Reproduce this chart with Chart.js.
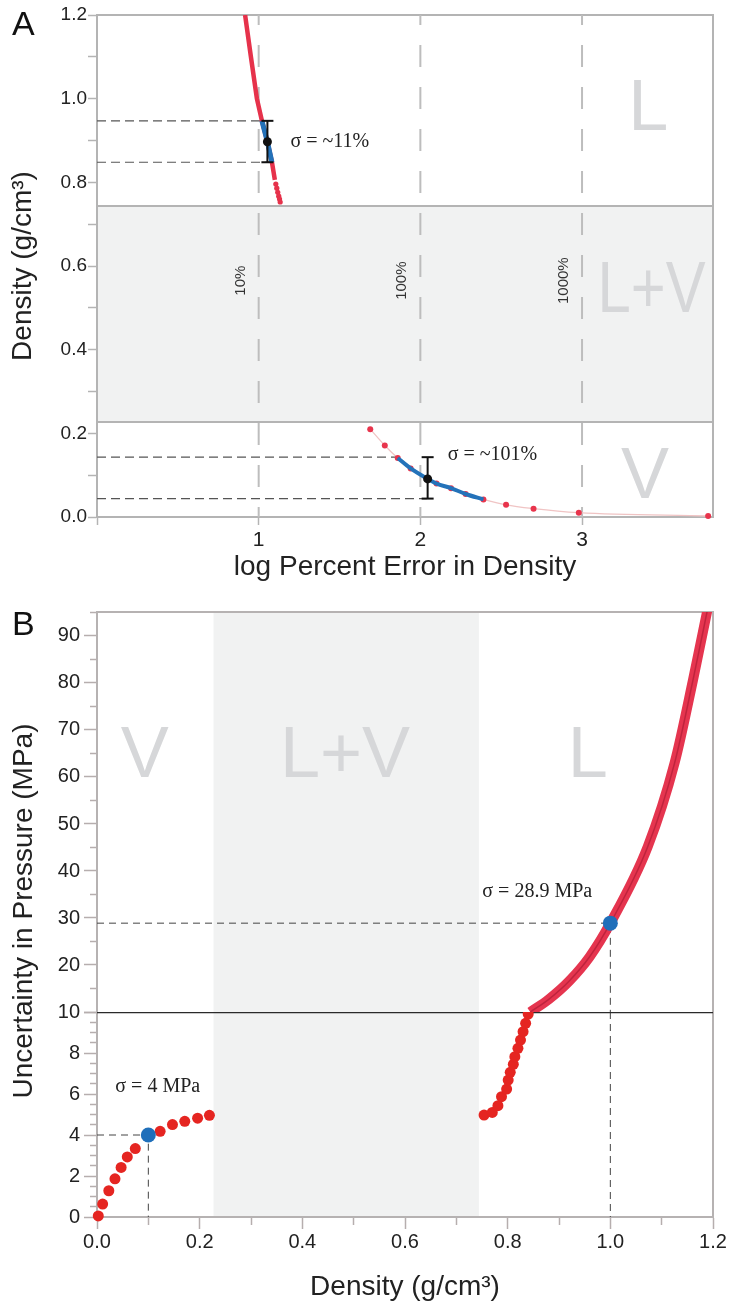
<!DOCTYPE html>
<html>
<head>
<meta charset="utf-8">
<title>Density uncertainty</title>
<script src="https://cdn.jsdelivr.net/npm/chart.js@4.4.1/dist/chart.umd.min.js"></script>
<style>
  html, body { margin: 0; padding: 0; background: #fff; }
  .panel { position: absolute; left: 0; width: 730px; }
</style>
</head>
<body>
<div class="panel" style="top:0;height:584px"><canvas id="chartA" width="730" height="584"></canvas></div>
<div class="panel" style="top:584px;height:724px"><canvas id="chartB" width="730" height="724"></canvas></div>
<script>
// phase boundaries in density (g/cm3), used by both panels
var phaseBand = [0.227, 0.744];

// ---- panel A : log percent error vs density ----
var aLiqErr = [0.916, 0.952, 0.989, 1.02, 1.054, 1.082, 1.1];
var aLiqDens = [1.2, 1.1, 1.0, 0.947, 0.897, 0.848, 0.806];
var aLiqTailErr = [1.106, 1.112, 1.118, 1.124, 1.129, 1.133];
var aLiqTailDens = [0.796, 0.786, 0.776, 0.767, 0.760, 0.753];
var aLiqBlueErr = [1.02, 1.054, 1.082];
var aLiqBlueDens = [0.947, 0.897, 0.848];

var aVapErr = [1.69, 1.78, 1.86, 1.94, 2.10, 2.19, 2.28, 2.39, 2.53, 2.70, 2.98, 3.78];
var aVapDens = [0.21, 0.171, 0.141, 0.116, 0.080, 0.069, 0.055, 0.042, 0.029, 0.020, 0.0103, 0.0024];
var aVapBlueErr = [1.86, 1.94, 2.045, 2.10, 2.19, 2.28, 2.39];
var aVapBlueDens = [0.141, 0.116, 0.091, 0.080, 0.069, 0.055, 0.042];

var aSigErr = [1.054, 2.045];
var aSigMean = [0.897, 0.091];
var aSigLo = [0.848, 0.044];
var aSigHi = [0.947, 0.143];
var aSigLabel = ['\u03c3 = ~11%', '\u03c3 = ~101%'];
var aGuideHiEnd = [1.02, 1.86];
var aGuideLoEnd = [1.07, 2.04];

var aRefErr = [1, 2, 3];
var aRefLabel = ['10%', '100%', '1000%'];
var aRegionText = ['L', 'L+V', 'V'];
var aRegionErr = [3.41, 3.43, 3.39];
var aRegionDens = [0.925, 0.49, 0.045];

// ---- panel B : uncertainty in pressure vs density ----
var bVapDens = [0.0025, 0.011, 0.023, 0.035, 0.047, 0.059, 0.0746, 0.123, 0.147, 0.171, 0.196, 0.219];
var bVapUnc = [0.05, 0.63, 1.28, 1.86, 2.42, 2.93, 3.34, 4.18, 4.51, 4.67, 4.82, 4.96];
var bLiqDotDens = [0.754, 0.770, 0.781, 0.788, 0.798, 0.801, 0.805, 0.811, 0.814, 0.820, 0.825, 0.830, 0.835, 0.840];
var bLiqDotUnc = [4.97, 5.1, 5.43, 5.87, 6.24, 6.68, 7.06, 7.45, 7.82, 8.23, 8.63, 9.04, 9.45, 9.9];
var bLiqCurveDens = [0.844, 0.88, 0.92, 0.96, 1.0, 1.073, 1.125, 1.161, 1.19];
var bLiqCurveUnc = [10, 12.7, 16.6, 21.8, 28.9, 45.2, 62.9, 80.6, 96];
var bSigDens = [0.1, 1.0];
var bSigUnc = [4, 28.9];
var bSigLabel = ['\u03c3 = 4 MPa', '\u03c3 = 28.9 MPa'];
var bBreak = 10;
var bRegionText = ['V', 'L+V', 'L'];
var bRegionDens = [0.093, 0.483, 0.956];
var bRegionUnc = [60, 60, 60];

var SANS = '"Liberation Sans", Arial, Helvetica, sans-serif';
var SERIF = '"Liberation Serif", "Times New Roman", serif';

function pts(xs, ys) {
  return xs.map(function (x, i) { return { x: x, y: ys[i] }; });
}
function px(scale, v) { return scale.getPixelForValue(v); }

// ---------------- panel A ----------------
var datasetsA = [
  { data: pts(aSigErr, aSigMean), pointRadius: 4.5, pointBackgroundColor: '#111', pointBorderWidth: 0, order: 0 }
];
aSigErr.forEach(function (x, i) {
  datasetsA.push({ data: [{ x: x, y: aSigLo[i] }, { x: x, y: aSigHi[i] }], showLine: true, borderColor: '#111', borderWidth: 2,
    pointStyle: 'line', pointRadius: 6, pointBorderColor: '#111', pointBorderWidth: 2, order: 1 });
  datasetsA.push({ data: [{ x: 0, y: aSigHi[i] }, { x: aGuideHiEnd[i], y: aSigHi[i] }], showLine: true, borderColor: '#555',
    borderWidth: 1.2, borderDash: [9, 5], pointRadius: 0, order: 5 });
  datasetsA.push({ data: [{ x: 0, y: aSigLo[i] }, { x: aGuideLoEnd[i], y: aSigLo[i] }], showLine: true, borderColor: '#555',
    borderWidth: 1.2, borderDash: [9, 5], pointRadius: 0, order: 5 });
});
datasetsA.push(
  { data: pts(aLiqBlueErr, aLiqBlueDens), showLine: true, borderColor: '#2372b9', borderWidth: 5, pointRadius: 0, order: 2 },
  { data: pts(aVapBlueErr, aVapBlueDens), showLine: true, borderColor: '#2372b9', borderWidth: 4, pointRadius: 0,
    cubicInterpolationMode: 'monotone', order: 2 },
  { data: pts(aLiqErr, aLiqDens), showLine: true, borderColor: '#e6324b', borderWidth: 4.5, pointRadius: 0, order: 3 },
  { data: pts(aLiqTailErr, aLiqTailDens), pointRadius: 2.6, pointBackgroundColor: '#e6324b', pointBorderWidth: 0, order: 3 },
  { data: pts(aVapErr, aVapDens), pointRadius: 3, pointBackgroundColor: '#e8344c', pointBorderWidth: 0, order: 3, clip: false },
  { data: pts(aVapErr, aVapDens), showLine: true, borderColor: '#f0c4c4', borderWidth: 1.3, pointRadius: 0,
    cubicInterpolationMode: 'monotone', order: 4 }
);
aRefErr.forEach(function (r) {
  datasetsA.push({ data: [{ x: r, y: 1.2 }, { x: r, y: 0 }], showLine: true, borderColor: '#bdbdbd', borderWidth: 2,
    borderDash: [22, 20], borderDashOffset: 12, pointRadius: 0, order: 6 });
});

var panelA = {
  id: 'panelA',
  beforeDraw: function (chart) {
    var ctx = chart.ctx, area = chart.chartArea, xs = chart.scales.x, ys = chart.scales.y;
    var yTop = px(ys, phaseBand[1]), yBot = px(ys, phaseBand[0]);
    ctx.save();
    ctx.fillStyle = '#f1f2f2';
    ctx.fillRect(area.left, yTop, area.right - area.left, yBot - yTop);
    ctx.fillStyle = '#d6d7d9';
    ctx.font = '72px ' + SANS;
    ctx.textAlign = 'center';
    ctx.textBaseline = 'alphabetic';
    aRegionText.forEach(function (t, i) {
      // the region letters sit in the narrow strip right of the 1000% line
      ctx.fillText(t, px(xs, aRegionErr[i]), px(ys, aRegionDens[i]), 108);
    });
    ctx.restore();
  },
  beforeDatasetsDraw: function (chart) {
    var ctx = chart.ctx, area = chart.chartArea, ys = chart.scales.y;
    ctx.save();
    ctx.strokeStyle = '#b4b4b4';
    ctx.lineWidth = 2;
    ctx.strokeRect(area.left, area.top, area.right - area.left, area.bottom - area.top);
    phaseBand.forEach(function (d) {
      var y = Math.round(px(ys, d));
      ctx.beginPath();
      ctx.moveTo(area.left, y);
      ctx.lineTo(area.right, y);
      ctx.stroke();
    });
    ctx.restore();
  },
  afterDatasetsDraw: function (chart) {
    var ctx = chart.ctx, xs = chart.scales.x, ys = chart.scales.y;
    ctx.save();
    // percent labels along the reference lines
    ctx.fillStyle = '#333';
    ctx.font = '15px ' + SANS;
    ctx.textAlign = 'center';
    ctx.textBaseline = 'alphabetic';
    aRefErr.forEach(function (r, i) {
      ctx.save();
      ctx.translate(px(xs, r) - 14, px(ys, 0.565));
      ctx.rotate(-Math.PI / 2);
      ctx.fillText(aRefLabel[i], 0, 0);
      ctx.restore();
    });
    // sigma notes
    var dx = [23, 20], dy = [0, -24];
    ctx.fillStyle = '#222';
    ctx.font = '20px ' + SERIF;
    ctx.textAlign = 'left';
    ctx.textBaseline = 'middle';
    aSigLabel.forEach(function (t, i) {
      ctx.fillText(t, px(xs, aSigErr[i]) + dx[i], px(ys, aSigMean[i]) + dy[i]);
    });
    ctx.restore();
  },
  afterDraw: function (chart) {
    var ctx = chart.ctx;
    ctx.save();
    ctx.fillStyle = '#111';
    ctx.font = '34px ' + SANS;
    ctx.textBaseline = 'alphabetic';
    ctx.fillText('A', 12, 35);
    ctx.restore();
  }
};

new Chart(document.getElementById('chartA'), {
  type: 'scatter',
  data: { datasets: datasetsA },
  options: {
    responsive: false, animation: false, devicePixelRatio: 1, events: [],
    layout: { padding: { top: 15, right: 17, left: 0, bottom: 0 } },
    plugins: { legend: { display: false }, tooltip: { enabled: false } },
    scales: {
      x: {
        type: 'linear', min: 0, max: 3.81,
        border: { color: '#b4b4b4', width: 2 },
        grid: { drawOnChartArea: false, tickLength: 8, tickColor: '#b4b4b4', tickWidth: 1.5 },
        ticks: { stepSize: 1, includeBounds: false, autoSkip: false, maxRotation: 0, padding: 3, color: '#222',
          font: { family: SANS, size: 21 },
          callback: function (v) { return v >= 1 ? String(v) : ''; } },
        title: { display: true, text: 'log Percent Error in Density', color: '#222',
          font: { family: SANS, size: 28 }, padding: { top: 0, bottom: 0 } },
        afterFit: function (s) { s.height = 67; }
      },
      y: {
        type: 'linear', min: 0, max: 1.2,
        border: { color: '#b4b4b4', width: 2 },
        grid: { drawOnChartArea: false, tickLength: 9, tickColor: '#b4b4b4', tickWidth: 1.5 },
        ticks: { stepSize: 0.1, autoSkip: false, padding: 1, color: '#222', font: { family: SANS, size: 19 },
          callback: function (v) { var k = Math.round(v * 10); return k % 2 === 0 ? (k / 10).toFixed(1) : ''; } },
        title: { display: true, text: 'Density (g/cm\u00b3)', color: '#222',
          font: { family: SANS, size: 28 }, padding: { top: 6, bottom: 0 } },
        afterFit: function (s) { s.width = 97; }
      }
    }
  },
  plugins: [panelA]
});

// ---------------- panel B ----------------
var datasetsB = [
  { data: [{ x: bSigDens[0], y: bSigUnc[0] }], yAxisID: 'yLow', pointRadius: 7.5, pointBackgroundColor: '#1f6fba', pointBorderWidth: 0, order: 0 },
  { data: [{ x: bSigDens[1], y: bSigUnc[1] }], yAxisID: 'yHigh', pointRadius: 7.5, pointBackgroundColor: '#1f6fba', pointBorderWidth: 0, order: 0 },
  { data: pts(bVapDens, bVapUnc), yAxisID: 'yLow', pointRadius: 5.5, pointBackgroundColor: '#e52521', pointBorderWidth: 0, clip: false, order: 1 },
  { data: pts(bLiqDotDens, bLiqDotUnc), yAxisID: 'yLow', pointRadius: 5.5, pointBackgroundColor: '#e52521', pointBorderWidth: 0, order: 1 },
  { data: pts(bLiqCurveDens, bLiqCurveUnc), yAxisID: 'yHigh', showLine: true, borderColor: 'rgba(160,20,45,0.55)', borderWidth: 1.5,
    pointRadius: 0, cubicInterpolationMode: 'monotone', order: 2 },
  { data: pts(bLiqCurveDens, bLiqCurveUnc), yAxisID: 'yHigh', showLine: true, borderColor: '#e5354f', borderWidth: 10,
    pointRadius: 0, cubicInterpolationMode: 'monotone', order: 3 },
  { data: [{ x: 0, y: bBreak }, { x: 1.2, y: bBreak }], yAxisID: 'yLow', showLine: true, borderColor: '#2a2a2a', borderWidth: 2.5,
    pointRadius: 0, order: 4 },
  // dashed guides to the sigma points
  { data: [{ x: 0, y: bSigUnc[0] }, { x: bSigDens[0], y: bSigUnc[0] }, { x: bSigDens[0], y: 0 }], yAxisID: 'yLow', showLine: true,
    borderColor: '#444', borderWidth: 1, borderDash: [7, 5], pointRadius: 0, order: 5 },
  { data: [{ x: 0, y: bSigUnc[1] }, { x: bSigDens[1], y: bSigUnc[1] }, { x: bSigDens[1], y: bBreak }], yAxisID: 'yHigh', showLine: true,
    borderColor: '#444', borderWidth: 1, borderDash: [7, 5], pointRadius: 0, order: 5 },
  { data: [{ x: bSigDens[1], y: bBreak }, { x: bSigDens[1], y: 0 }], yAxisID: 'yLow', showLine: true,
    borderColor: '#444', borderWidth: 1, borderDash: [7, 5], pointRadius: 0, order: 5 }
];

var panelB = {
  id: 'panelB',
  beforeDraw: function (chart) {
    var ctx = chart.ctx, area = chart.chartArea, xs = chart.scales.x, yh = chart.scales.yHigh;
    var xl = px(xs, phaseBand[0]), xr = px(xs, phaseBand[1]);
    ctx.save();
    ctx.fillStyle = '#f1f2f2';
    ctx.fillRect(xl, area.top, xr - xl, area.bottom - area.top);
    ctx.fillStyle = '#d6d7d9';
    ctx.font = '72px ' + SANS;
    ctx.textAlign = 'center';
    ctx.textBaseline = 'alphabetic';
    bRegionText.forEach(function (t, i) {
      ctx.fillText(t, px(xs, bRegionDens[i]), px(yh, bRegionUnc[i]));
    });
    ctx.restore();
  },
  beforeDatasetsDraw: function (chart) {
    var ctx = chart.ctx, area = chart.chartArea;
    ctx.save();
    ctx.strokeStyle = '#b6b2b2';
    ctx.lineWidth = 2;
    ctx.strokeRect(area.left, area.top, area.right - area.left, area.bottom - area.top);
    ctx.restore();
  },
  afterDatasetsDraw: function (chart) {
    var ctx = chart.ctx, xs = chart.scales.x;
    var axes = [chart.scales.yLow, chart.scales.yHigh];
    var dx = [-33, -128], dy = [-48, -31];
    ctx.save();
    ctx.fillStyle = '#222';
    ctx.font = '20px ' + SERIF;
    ctx.textAlign = 'left';
    ctx.textBaseline = 'middle';
    bSigLabel.forEach(function (t, i) {
      ctx.fillText(t, px(xs, bSigDens[i]) + dx[i], px(axes[i], bSigUnc[i]) + dy[i]);
    });
    ctx.restore();
  },
  afterDraw: function (chart) {
    var ctx = chart.ctx;
    ctx.save();
    ctx.fillStyle = '#111';
    ctx.font = '34px ' + SANS;
    ctx.textBaseline = 'alphabetic';
    ctx.fillText('B', 12, 51);
    ctx.fillStyle = '#222';
    ctx.font = '28px ' + SANS;
    ctx.textAlign = 'center';
    ctx.textBaseline = 'middle';
    ctx.translate(24, 327);
    ctx.rotate(-Math.PI / 2);
    ctx.fillText('Uncertainty in Pressure (MPa)', 0, 0);
    ctx.restore();
  }
};

function leftMinorDash(isMajor) {
  return function (c) { return c.tick && isMajor(c.tick.value) ? [] : [0, 6, 7, 100]; };
}

new Chart(document.getElementById('chartB'), {
  type: 'scatter',
  data: { datasets: datasetsB },
  options: {
    responsive: false, animation: false, devicePixelRatio: 1, events: [],
    layout: { padding: { top: 28, right: 17, left: 0, bottom: 0 } },
    plugins: { legend: { display: false }, tooltip: { enabled: false } },
    scales: {
      x: {
        type: 'linear', min: 0, max: 1.2,
        border: { color: '#b6b2b2', width: 2 },
        grid: { drawOnChartArea: false, tickLength: 12, tickColor: '#b6aeae', tickWidth: 1.5,
          tickBorderDash: function (c) { return c.tick && Math.round(c.tick.value * 10) % 2 === 0 ? [] : [7, 100]; } },
        ticks: { stepSize: 0.1, autoSkip: false, maxRotation: 0, padding: 1, color: '#222', font: { family: SANS, size: 20 },
          callback: function (v) { var k = Math.round(v * 10); return k % 2 === 0 ? (k / 10).toFixed(1) : ''; } },
        title: { display: true, text: 'Density (g/cm\u00b3)', color: '#222',
          font: { family: SANS, size: 28 }, padding: { top: 0, bottom: 4 } },
        afterFit: function (s) { s.height = 91; }
      },
      yLow: {
        type: 'linear', position: 'left', stack: 'unc', stackWeight: 205, min: 0, max: bBreak,
        border: { color: '#b6b2b2', width: 2 },
        grid: { drawOnChartArea: false, tickLength: 13, tickColor: '#b6aeae', tickWidth: 1.5,
          tickBorderDash: leftMinorDash(function (v) { return Math.abs(v % 2) < 1e-6; }) },
        ticks: { stepSize: 0.5, autoSkip: false, padding: 4, color: '#222', font: { family: SANS, size: 20 },
          callback: function (v) { return Math.abs(v % 2) < 1e-6 ? String(v) : ''; } },
        afterFit: function (s) { s.width = 97; }
      },
      yHigh: {
        type: 'linear', position: 'left', stack: 'unc', stackWeight: 400, min: bBreak, max: 95.1,
        border: { color: '#b6b2b2', width: 2 },
        grid: { drawOnChartArea: false, tickLength: 13, tickColor: '#b6aeae', tickWidth: 1.5,
          tickBorderDash: leftMinorDash(function (v) { return v % 10 === 0; }) },
        ticks: { stepSize: 5, includeBounds: false, autoSkip: false, padding: 4, color: '#222', font: { family: SANS, size: 20 },
          callback: function (v) { return v % 10 === 0 && v > bBreak ? String(v) : ''; } },
        afterFit: function (s) { s.width = 97; }
      }
    }
  },
  plugins: [panelB]
});
</script>
</body>
</html>
